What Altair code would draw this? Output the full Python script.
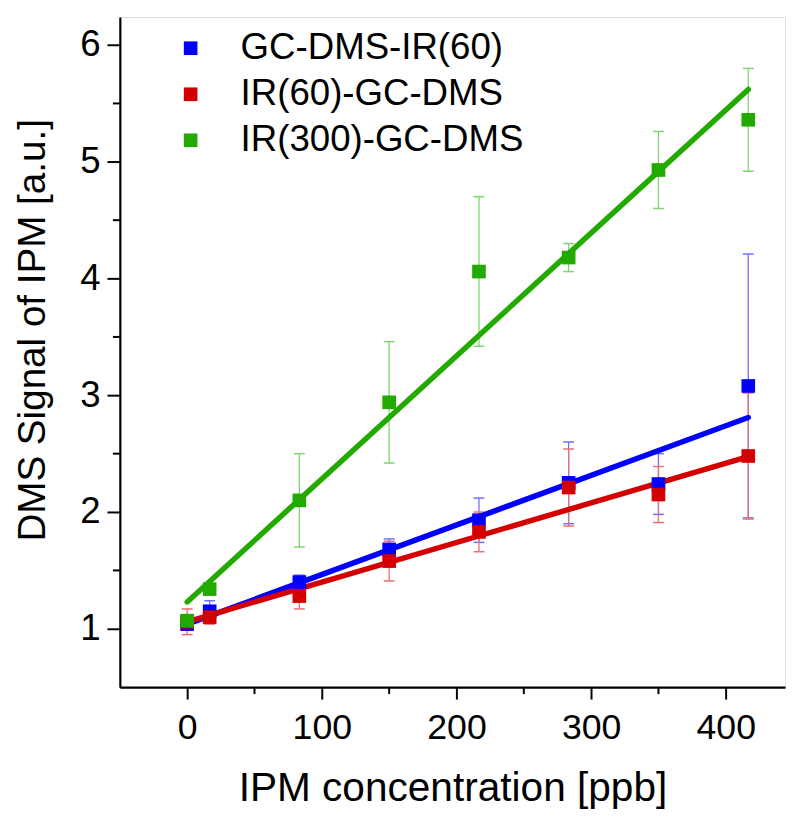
import altair as alt
import pandas as pd

FONT = "Liberation Sans"

series_names = ["GC-DMS-IR(60)", "IR(60)-GC-DMS", "IR(300)-GC-DMS"]
conc = [0, 16.7, 83.3, 150, 216.7, 283.3, 350, 416.7]

blue_y = [1.04, 1.15, 1.40, 1.68, 1.93, 2.25, 2.24, 3.08]
blue_err = [0.04, 0.09, 0.06, 0.09, 0.19, 0.35, 0.26, 1.13]
red_y = [1.06, 1.10, 1.28, 1.58, 1.83, 2.21, 2.15, 2.48]
red_err = [0.11, 0.06, 0.11, 0.17, 0.17, 0.33, 0.24, 0.54]
green_y = [1.07, 1.34, 2.10, 2.94, 4.06, 4.18, 4.93, 5.36]
green_err = [0.04, 0.04, 0.40, 0.52, 0.64, 0.12, 0.33, 0.44]

fit_x = [0, 416.7]
blue_fit = [1.04, 2.81]
red_fit = [1.06, 2.475]
green_fit = [1.23, 5.62]

x_major = [0, 100, 200, 300, 400]
x_minor = [50, 150, 250, 350]
y_major = [1, 2, 3, 4, 5, 6]
y_minor = [1.5, 2.5, 3.5, 4.5, 5.5]

main_colors = ["#0000FF", "#D40000", "#22AA00"]
err_colors = ["#6F6FFF", "#EC6E6E", "#7FD46F"]

W, H = 672, 677

ys = [blue_y, red_y, green_y]
errs = [blue_err, red_err, green_err]
fits = [blue_fit, red_fit, green_fit]

rows = []
for s, yv, ev in zip(series_names, ys, errs):
    for xv, y, e in zip(conc, yv, ev):
        rows.append({"series": s, "x": xv, "y": y, "lo": y - e, "hi": y + e})
pts = pd.DataFrame(rows)

xscale = alt.Scale(domain=[-50, 444], nice=False, zero=False)
yscale = alt.Scale(domain=[0.5, 6.24], nice=False, zero=False)

xaxis = alt.Axis(
    title="IPM concentration [ppb]", values=x_major, grid=False,
    domainColor="black", domainWidth=2.2, tickColor="black", tickWidth=2, tickSize=12,
    labelFont=FONT, labelFontSize=36, labelColor="black", labelPadding=12,
    titleFont=FONT, titleFontSize=41, titleFontWeight="normal", titleColor="black",
    titleY=114, titleBaseline="alphabetic",
)
yaxis = alt.Axis(
    title="DMS Signal of IPM [a.u.]", values=y_major, grid=False,
    domainColor="black", domainWidth=2.2, tickColor="black", tickWidth=2, tickSize=13,
    labelFont=FONT, labelFontSize=37, labelColor="black", labelPadding=7,
    titleFont=FONT, titleFontSize=39, titleFontWeight="normal", titleColor="black",
    titleX=-88, titleY=316, titleBaseline="middle",
)

def X(f):
    return alt.X(f, type="quantitative", scale=xscale, axis=xaxis)

def Y(f):
    return alt.Y(f, type="quantitative", scale=yscale, axis=yaxis)

layers = []

# error bars
for s, ec in zip(series_names, err_colors):
    d = pts[pts.series == s]
    base = alt.Chart(d)
    layers.append(base.mark_rule(color=ec, strokeWidth=1.3).encode(x=X("x"), y=Y("lo"), y2="hi"))
    layers.append(base.mark_tick(color=ec, orient="horizontal", size=11, thickness=1.5, opacity=1).encode(x=X("x"), y=Y("lo")))
    layers.append(base.mark_tick(color=ec, orient="horizontal", size=11, thickness=1.5, opacity=1).encode(x=X("x"), y=Y("hi")))

# fit lines
for s, c, f in zip(series_names, main_colors, fits):
    d = pd.DataFrame({"x": fit_x, "y": f})
    layers.append(alt.Chart(d).mark_line(color=c, strokeWidth=5.5, strokeCap="round").encode(x=X("x"), y=Y("y")))

# squares
squares = alt.Chart(pts).mark_square(size=190, opacity=1).encode(
    x=X("x"), y=Y("y"),
    color=alt.Color("series:N",
                    scale=alt.Scale(domain=series_names, range=main_colors),
                    sort=series_names,
                    legend=alt.Legend(orient="none", legendX=53, legendY=13, title=None,
                                      symbolType="square", symbolSize=190, symbolStrokeWidth=0,
                                      labelFont=FONT, labelFontSize=37, labelColor="black",
                                      labelLimit=0, labelOffset=32, rowPadding=8.5, padding=0)),
)
layers.append(squares)

# minor ticks
mx = pd.DataFrame({"v": x_minor})
layers.append(alt.Chart(mx).mark_rule(color="black", strokeWidth=2).encode(
    x=X("v"), y=alt.value(H), y2=alt.value(H + 7)))
my = pd.DataFrame({"v": y_minor})
layers.append(alt.Chart(my).mark_rule(color="black", strokeWidth=2).encode(
    y=Y("v"), x=alt.value(-7), x2=alt.value(0)))

chart = alt.layer(*layers).properties(
    width=W, height=H,
    padding={"left": 113, "top": 5, "right": 3, "bottom": 125},
    autosize=alt.AutoSizeParams(type="none"),
).configure_view(stroke=None).configure(background="white")

chart.save("out.html", embed_options={"renderer": "svg", "actions": False})
